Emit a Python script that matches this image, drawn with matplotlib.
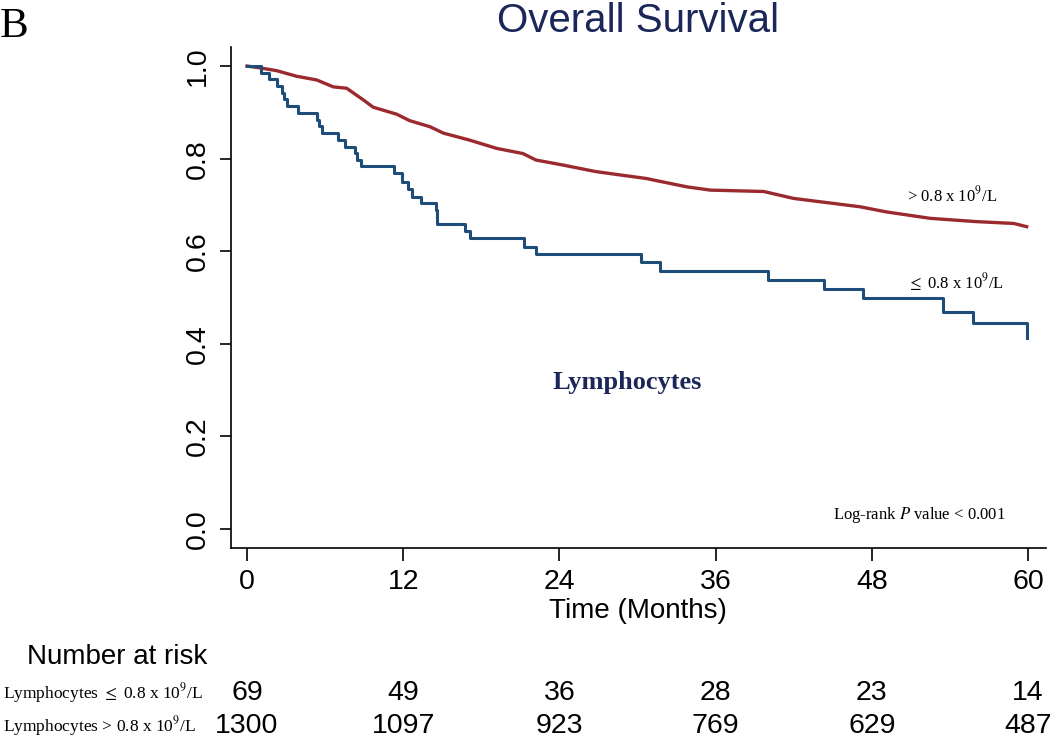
''' overall survival km plot, lymphocyte groups
'''
import matplotlib
matplotlib.use('Agg')
import matplotlib.pyplot as plt
from matplotlib.transforms import blended_transform_factory

sans = 'Liberation Sans'
serif = 'Liberation Serif'
red = '#9b2a2e'
blue = '#1f4d7a'
navy = '#1b2758'

# curve for lymphocytes > 0.8
high_t = [0, 1.0, 2.28, 3.8, 5.35, 6.63, 7.66, 8.93, 9.7, 11.5, 12.5, 14.05,
          15.1, 17.1, 19.2, 21.2, 22.2, 24.3, 26.8, 28.6, 30.7, 31.2, 33.8,
          35.6, 39.7, 42.0, 47.1, 49.1, 52.5, 56.0, 58.9, 59.9]
high_s = [1.0, 0.996, 0.990, 0.978, 0.970, 0.955, 0.952, 0.927, 0.911, 0.896,
          0.882, 0.869, 0.855, 0.840, 0.822, 0.811, 0.797, 0.786, 0.772, 0.765,
          0.757, 0.754, 0.739, 0.732, 0.729, 0.714, 0.696, 0.685, 0.671, 0.664,
          0.660, 0.653]

# curve for lymphocytes <= 0.8, step times and survival after each step
low_t = [0, 1.08, 1.7, 2.28, 2.71, 2.87, 3.1, 3.94, 5.4, 5.5, 5.79, 6.96, 7.5,
         8.3, 8.45, 8.76, 11.3, 11.93, 12.4, 12.65, 13.4, 14.5, 14.6, 16.75,
         17.1, 21.3, 22.2, 30.3, 31.7, 40.0, 44.3, 47.3, 53.5, 55.8, 59.9]
low_s = [1.0, 0.986, 0.971, 0.957, 0.942, 0.928, 0.913, 0.899, 0.884, 0.870,
         0.855, 0.841, 0.826, 0.812, 0.797, 0.783, 0.768, 0.750, 0.734, 0.718,
         0.705, 0.689, 0.659, 0.644, 0.628, 0.610, 0.593, 0.576, 0.558, 0.538,
         0.518, 0.498, 0.469, 0.444, 0.412]

risk_times = [0, 12, 24, 36, 48, 60]
risk_low = [69, 49, 36, 28, 23, 14]
risk_high = [1300, 1097, 923, 769, 629, 487]
yticks = [0.0, 0.2, 0.4, 0.6, 0.8, 1.0]

plt.rcParams['mathtext.fontset'] = 'stix'


def km_plot():
    fig = plt.figure(figsize=(10.5, 7.44), dpi=100)
    ax = fig.add_axes([0.2197, 0.263, 0.9959 - 0.2197, 0.9372 - 0.263])

    ax.plot(high_t, high_s, color=red, lw=2.4, solid_joinstyle='miter')
    ax.step(low_t, low_s, where='post', color=blue, lw=2.2)

    ax.set_xlim(-1.25, 61.36)
    ax.set_ylim(-0.0417, 1.0417)
    for side in ('top', 'right'):
        ax.spines[side].set_visible(False)
    for side in ('left', 'bottom'):
        ax.spines[side].set_linewidth(1.2)

    ax.set_xticks(risk_times)
    ax.set_yticks(yticks)
    ax.set_yticklabels(['%.1f' % v for v in yticks], rotation=90, va='center')
    ax.tick_params(axis='x', length=9, width=1.2, pad=6, labelsize=20.5)
    ax.tick_params(axis='y', length=8, width=1.2, pad=6, labelsize=20.5)
    for lab in ax.get_xticklabels() + ax.get_yticklabels():
        lab.set_family(sans)
    ax.set_xlabel('Time (Months)', family=sans, fontsize=20, labelpad=2)

    # labels inside the plot
    ax.text(50.7, 0.721, r'> 0.8 x 10$^9$/L', family=serif, fontsize=12,
            va='center', ha='left')
    ax.text(50.7, 0.534, r'$\leq$ 0.8 x 10$^9$/L', family=serif, fontsize=12,
            va='center', ha='left')
    ax.text(29.2, 0.317, 'Lymphocytes', family=serif, fontsize=19,
            fontweight='bold', color=navy, ha='center', va='center')
    ax.text(45.0, 0.030, r'Log-rank $P$ value < 0.001', family=serif,
            fontsize=12, va='center', ha='left')

    fig.text(638 / 1050, 0.957, 'Overall Survival', family=sans, fontsize=29,
             color=navy, ha='center', va='baseline')
    fig.text(0.0, 0.9507, 'B', family=serif, fontsize=31, ha='left',
             va='baseline')

    # number at risk table
    tr = blended_transform_factory(ax.transData, fig.transFigure)
    fig.text(0.0257, 0.117, 'Number at risk', family=sans, fontsize=20,
             va='center', ha='left')
    rows = [
        (r'Lymphocytes $\leq$ 0.8 x 10$^9$/L', risk_low, 0.0685),
        (r'Lymphocytes > 0.8 x 10$^9$/L', risk_high, 0.0242),
    ]
    for label, counts, ypos in rows:
        fig.text(0.003, ypos, label, family=serif, fontsize=12.5,
                 va='center', ha='left')
        for t, n in zip(risk_times, counts):
            ax.text(t, ypos, str(n), transform=tr, family=sans, fontsize=20.5,
                    ha='center', va='center', clip_on=False)

    fig.savefig('out.png', dpi=100)


if __name__ == '__main__':
    km_plot()
